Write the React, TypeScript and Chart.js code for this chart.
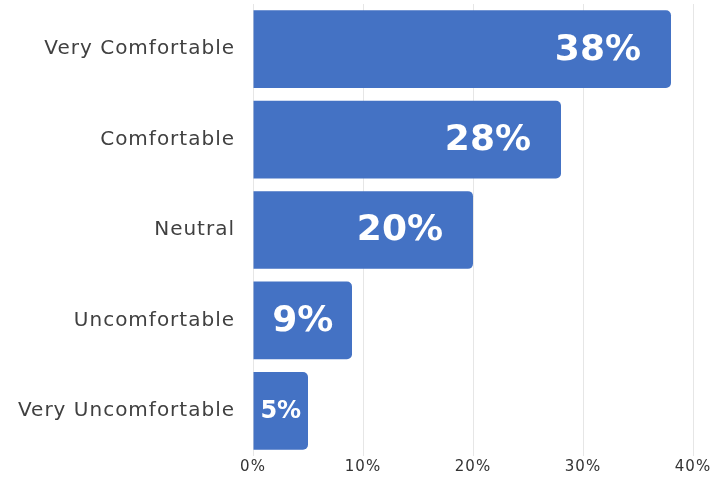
import React, { useEffect, useRef } from "react";
import { Chart, registerables } from "chart.js";

Chart.register(...registerables);

const categories = ["Very Comfortable", "Comfortable", "Neutral", "Uncomfortable", "Very Uncomfortable"];
const values = [38, 28, 20, 9, 5];
const xTicks = [0, 10, 20, 30, 40];

const spacingPlugin = {
  id: "spacing",
  beforeDraw(chart: any) {
    chart.ctx.letterSpacing = "1px";
  },
};

const barLabelPlugin = {
  id: "barLabels",
  afterDatasetsDraw(chart: any) {
    const ctx = chart.ctx;
    const meta = chart.getDatasetMeta(0);
    ctx.save();
    ctx.letterSpacing = "0px";
    meta.data.forEach((bar: any, i: number) => {
      const text = values[i] + "%";
      const left = bar.base;
      const right = bar.x;
      const w = right - left;
      let size = 36;
      ctx.font = `bold ${size}px "DejaVu Sans"`;
      let tw = ctx.measureText(text).width;
      const maxW = w - 13;
      if (tw > maxW) {
        size = Math.floor((size * maxW) / tw);
        ctx.font = `bold ${size}px "DejaVu Sans"`;
        tw = ctx.measureText(text).width;
      }
      const pad = Math.min(30, (w - tw) / 2);
      ctx.fillStyle = "#ffffff";
      ctx.textAlign = "right";
      ctx.textBaseline = "middle";
      ctx.fillText(text, right - pad, bar.y + 1);
    });
    ctx.restore();
  },
};

export default function App() {
  const ref = useRef<HTMLCanvasElement | null>(null);
  useEffect(() => {
    if (!ref.current) return;
    const chart = new Chart(ref.current, {
      type: "bar",
      data: {
        labels: categories,
        datasets: [
          {
            data: values,
            backgroundColor: "#4472C4",
            borderRadius: 5,
            borderSkipped: "start",
            barPercentage: 0.86,
            categoryPercentage: 1,
          },
        ],
      },
      options: {
        indexAxis: "y",
        animation: false,
        responsive: false,
        maintainAspectRatio: false,
        layout: { padding: { top: 4, right: 19, left: 0, bottom: 0 } },
        plugins: { legend: { display: false }, tooltip: { enabled: false } },
        scales: {
          x: {
            min: xTicks[0],
            max: xTicks[xTicks.length - 1],
            afterBuildTicks: (scale: any) => {
              scale.ticks = xTicks.map((v) => ({ value: v }));
            },
            afterFit: (scale: any) => {
              scale.height = 21;
            },
            grid: { color: "#e6e6e6", drawTicks: false },
            border: { display: false },
            ticks: {
              padding: 2,
              color: "#333333",
              font: { family: "DejaVu Sans", size: 15 },
              callback: (v: any) => v + "%",
            },
          },
          y: {
            afterFit: (scale: any) => {
              scale.width = 253;
              scale.paddingTop = 0;
              scale.paddingBottom = 0;
            },
            grid: { display: false, drawTicks: false },
            border: { display: false },
            ticks: {
              padding: 18,
              color: "#404040",
              font: { family: "DejaVu Sans", size: 20 },
            },
          },
        },
      },
      plugins: [spacingPlugin, barLabelPlugin],
    });
    return () => chart.destroy();
  }, []);
  return (
    <div style={{ position: "fixed", left: 0, top: 0, width: 712, height: 477, background: "#ffffff" }}>
      <canvas ref={ref} width={712} height={477} style={{ width: 712, height: 477 }} />
    </div>
  );
}
